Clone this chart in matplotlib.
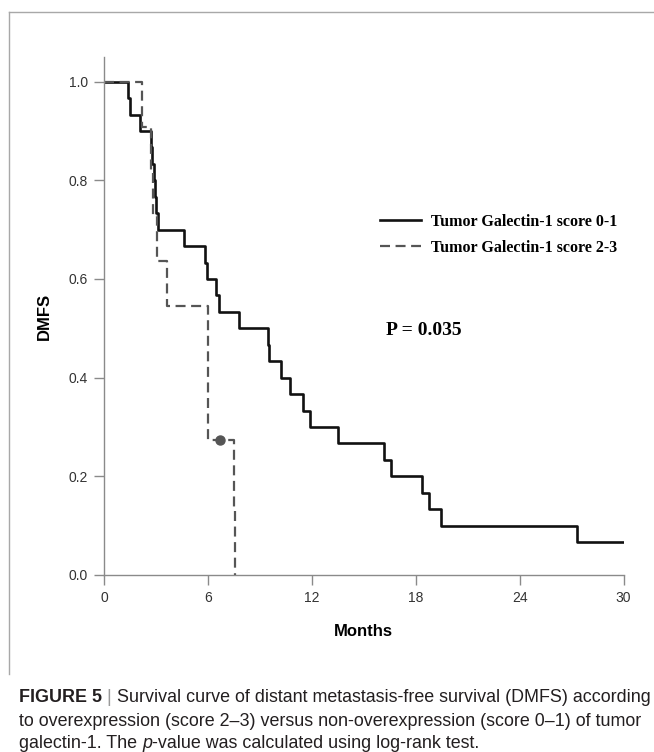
import matplotlib
matplotlib.use('Agg')
import matplotlib.pyplot as plt
from matplotlib.lines import Line2D
from matplotlib.text import Annotation

# ── 数据 ──
months_low = [0, 1.37, 1.53, 2.07, 2.72, 2.80, 2.88, 2.95, 3.00, 3.10, 4.60,
              5.82, 5.92, 6.45, 6.62, 7.82, 9.45, 9.51, 10.24, 10.76, 11.49,
              11.92, 13.49, 16.15, 16.57, 18.38, 18.78, 19.45, 27.3, 30.0]
dmfs_low = [1.0, 0.967, 0.933, 0.900, 0.867, 0.833, 0.800, 0.767, 0.733, 0.700,
            0.667, 0.633, 0.600, 0.567, 0.533, 0.500, 0.467, 0.433, 0.400,
            0.367, 0.333, 0.300, 0.267, 0.233, 0.200, 0.167, 0.133, 0.100,
            0.067, 0.067]

months_high = [0, 2.2, 2.72, 2.85, 3.05, 3.65, 6.0, 7.49, 7.59]
dmfs_high = [1.0, 0.909, 0.818, 0.727, 0.636, 0.545, 0.273, 0.136, 0.0]

censor_high_x = [6.72]
censor_high_y = [0.273]

labels = ['Tumor Galectin-1 score 0-1', 'Tumor Galectin-1 score 2-3']
x_ticks = [0, 6, 12, 18, 24, 30]
y_ticks = [0.0, 0.2, 0.4, 0.6, 0.8, 1.0]

SANS = 'Liberation Sans'
SERIF = 'Liberation Serif'
GRAY = '#8a8a8a'
TXT = '#231f20'
CAP_FS = 12.85

fig = plt.figure(figsize=(6.54, 7.52), dpi=100)
ax = fig.add_axes([0.159, 0.2354, 0.7944, 0.6888])

ax.step(months_low, dmfs_low, where='post', color='#111111', lw=1.9,
        label=labels[0])
ax.step(months_high, dmfs_high, where='post', color='#555555', lw=1.6,
        dashes=(4.5, 2.5), label=labels[1])
ax.plot(censor_high_x, censor_high_y, 'o', color='#555555', ms=6.5)

ax.set_xlim(0, 30)
ax.set_ylim(0, 1.05)
ax.set_xticks(x_ticks)
ax.set_yticks(y_ticks)
ax.set_xticklabels([str(t) for t in x_ticks])
ax.set_yticklabels([f'{t:.1f}' for t in y_ticks])
for side in ('top', 'right'):
    ax.spines[side].set_visible(False)
for side in ('left', 'bottom'):
    ax.spines[side].set_color(GRAY)
    ax.spines[side].set_linewidth(1.0)
ax.tick_params(direction='out', length=7.5, width=1.0, color=GRAY,
               labelcolor='#333333', labelsize=10, pad=4)
for lab in ax.get_xticklabels() + ax.get_yticklabels():
    lab.set_family(SANS)

ax.set_ylabel('DMFS', fontfamily=SANS, fontweight='bold', fontsize=12)
ax.set_xlabel('Months', fontfamily=SANS, fontweight='bold', fontsize=12)
ax.yaxis.set_label_coords(-0.114, 0.5)
ax.yaxis.label.set_va('center')
ax.xaxis.set_label_coords(0.5, -0.110)
ax.xaxis.label.set_va('center')

ax.legend(loc='upper left', bbox_to_anchor=(0.531, 0.697),
          frameon=False, borderpad=0, borderaxespad=0,
          handlelength=2.6, handletextpad=0.6, labelspacing=0.6,
          prop={'family': SERIF, 'weight': 'bold', 'size': 11.5})

ax.text(16.3, 0.495, 'P = 0.035', fontfamily=SERIF, fontweight='bold',
        fontsize=14, ha='left', va='center')

# 外框 (上边和左边)
fig.add_artist(Line2D([9 / 654, 9 / 654], [1 - 12 / 752, 1 - 674 / 752],
                      color='#a8a8a8', lw=1.0, transform=fig.transFigure))
fig.add_artist(Line2D([9 / 654, 1.0], [1 - 12 / 752, 1 - 12 / 752],
                      color='#a8a8a8', lw=1.0, transform=fig.transFigure))


# ── 图注 ──
def follow(prev, s, **kw):
    """接在前一段文字后面 (同一基线)"""
    opts = dict(fontfamily=SANS, fontsize=CAP_FS, color=TXT)
    opts.update(kw)
    a = Annotation(s, xy=(1, 0), xycoords=prev, va='bottom', ha='left', **opts)
    fig.add_artist(a)
    return a


x0 = 19 / 654
cap_kw = dict(fontfamily=SANS, fontsize=CAP_FS, color=TXT, va='bottom')
y1, y2, y3 = 1 - 706 / 752, 1 - 729.5 / 752, 1 - 751.5 / 752
t1 = fig.text(x0, y1, 'FIGURE 5', fontweight='bold', **cap_kw)
a1 = follow(t1, ' | ', color='#9a9a9a')
follow(a1, 'Survival curve of distant metastasis-free survival (DMFS) according')
fig.text(x0, y2, 'to overexpression (score 2\u20133) versus '
         'non-overexpression (score 0\u20131) of tumor', **cap_kw)
t3 = fig.text(x0, y3, 'galectin-1. The ', **cap_kw)
a3 = follow(t3, 'p', fontstyle='italic')
follow(a3, '-value was calculated using log-rank test.')

fig.savefig('out.png', dpi=100)
